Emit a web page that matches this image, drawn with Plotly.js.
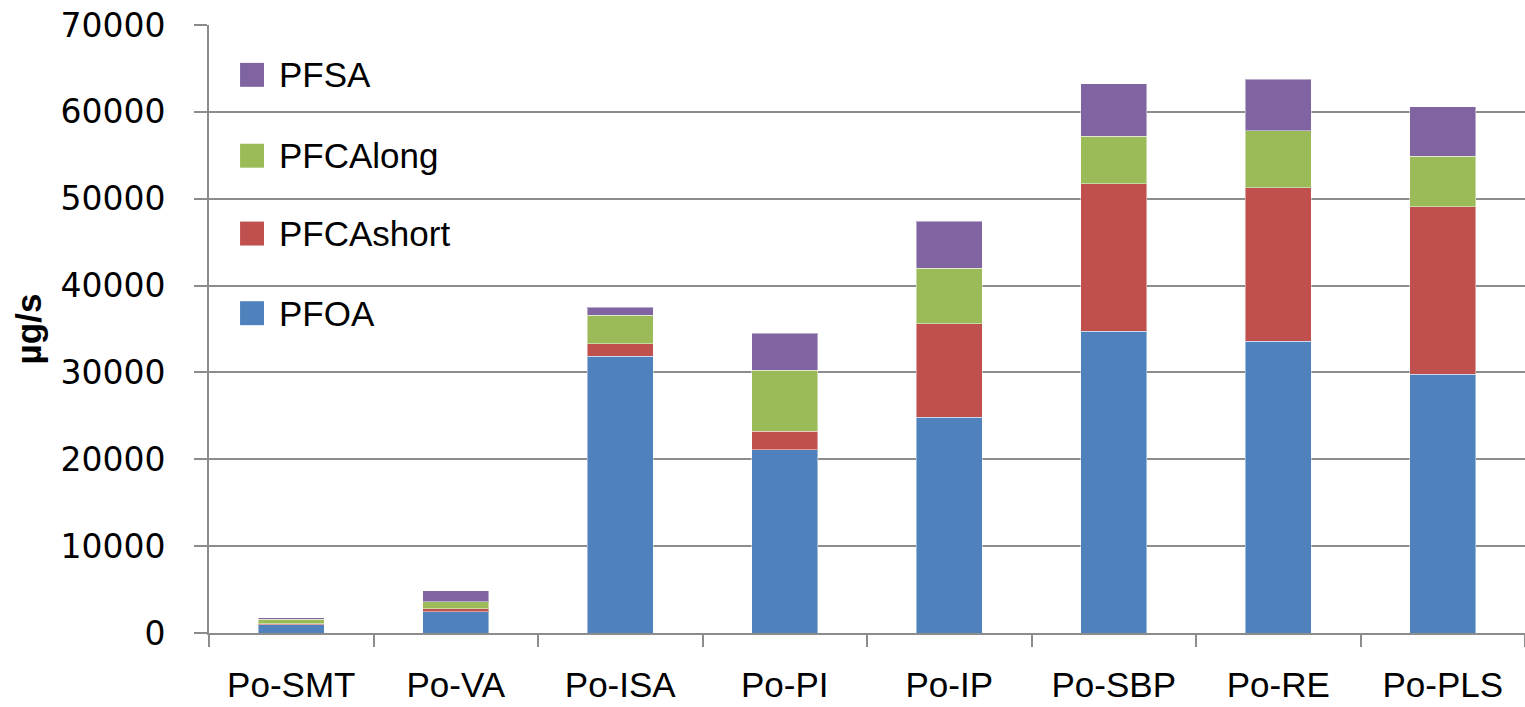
<!DOCTYPE html>
<html>
<head>
<meta charset="utf-8">
<script src="https://cdn.plot.ly/plotly-3.0.1.min.js"></script>
<style>html,body{margin:0;padding:0;background:#fff;}#chart{width:1525px;height:707px;}</style>
</head>
<body>
<div id="chart"></div>
<script>
const categories = ["Po-SMT", "Po-VA", "Po-ISA", "Po-PI", "Po-IP", "Po-SBP", "Po-RE", "Po-PLS"];
const PFOA      = [960, 2450, 31840, 21090, 24820, 34750, 33600, 29770];
const PFCAshort = [110, 350, 1450, 2120, 10770, 16950, 17640, 19290];
const PFCAlong  = [500, 800, 3270, 7020, 6410, 5490, 6600, 5830];
const PFSA      = [160, 1270, 920, 4260, 5410, 6060, 5900, 5720];
const seriesNames = ["PFOA", "PFCAshort", "PFCAlong", "PFSA"];
const seriesValues = [PFOA, PFCAshort, PFCAlong, PFSA];
const colors = ["#4F81BD", "#C0504D", "#9BBB59", "#8064A2"];
const yTicks = [0, 10000, 20000, 30000, 40000, 50000, 60000, 70000];

const traces = seriesNames.map((n, i) => ({
  type: "bar", name: n, x: categories, y: seriesValues[i],
  marker: {color: colors[i], line: {color: "rgba(255,255,255,0.45)", width: 1}},
  showlegend: false
}));

// manual legend (top to bottom: PFSA, PFCAlong, PFCAshort, PFOA)
const shapes = [], annotations = [];
const legendOrder = [3, 2, 1, 0];
const legY = [0.918, 0.785, 0.657, 0.526];
legendOrder.forEach((si, k) => {
  shapes.push({type: "rect", xref: "paper", yref: "paper",
    x0: 0.0236, x1: 0.0418, y0: legY[k] - 0.0197, y1: legY[k] + 0.0197,
    fillcolor: colors[si], line: {width: 0}});
  annotations.push({xref: "paper", yref: "paper", x: 0.0517, y: legY[k],
    xanchor: "left", yanchor: "middle", showarrow: false, text: seriesNames[si],
    font: {family: "Liberation Sans, Arial, sans-serif", size: 35, color: "#000"}});
});

const layout = {
  barmode: "stack",
  bargap: 0.6,
  width: 1525, height: 707,
  margin: {l: 209, r: 0, t: 25, b: 74},
  paper_bgcolor: "#fff", plot_bgcolor: "#fff",
  showlegend: false,
  xaxis: {
    type: "category",
    showgrid: false,
    showline: true, linecolor: "#8c8c8c", linewidth: 2,
    ticks: "outside", tickson: "boundaries", ticklen: 12, tickcolor: "#8c8c8c", tickwidth: 2,
    ticklabelstandoff: 20,
    tickfont: {family: "Liberation Sans, Arial, sans-serif", size: 35, color: "#000"}
  },
  yaxis: {
    range: [0, 70000],
    tickvals: yTicks, ticktext: yTicks.map(String),
    showgrid: true, gridcolor: "#8c8c8c", gridwidth: 2,
    zeroline: false,
    showline: true, linecolor: "#8c8c8c", linewidth: 2,
    ticks: "outside", ticklen: 13, tickcolor: "#8c8c8c", tickwidth: 2,
    ticklabelstandoff: 22,
    tickfont: {family: "DejaVu Sans, Verdana, sans-serif", size: 33, color: "#000"},
    title: {text: "µg/s", font: {family: "Liberation Sans, Arial, sans-serif", size: 35, color: "#000", weight: "bold"}, standoff: 8}
  },
  shapes: shapes,
  annotations: annotations
};

Plotly.newPlot("chart", traces, layout, {displayModeBar: false, staticPlot: true});
</script>
</body>
</html>
